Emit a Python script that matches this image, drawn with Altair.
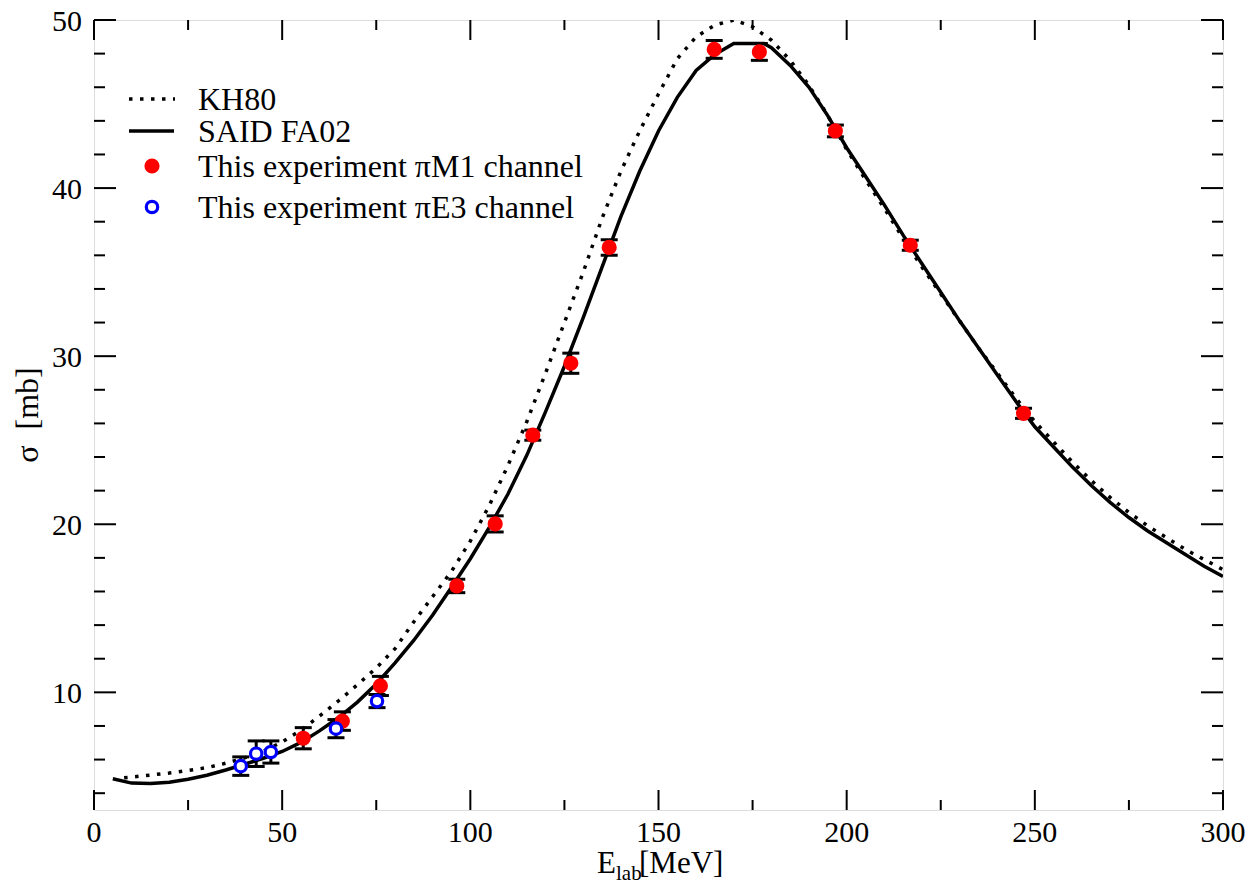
import altair as alt
import pandas as pd

# ---------------- data ----------------
# SAID FA02 (solid curve)
said_e = [5, 10, 15, 20, 25, 30, 35, 40, 45, 50, 55, 60, 65, 70, 75, 80, 85, 90, 95, 100,
          105, 110, 115, 120, 125, 130, 135, 140, 145, 150, 155, 160, 165, 170, 178, 180,
          185, 190, 195, 200, 205, 210, 215, 220, 225, 230, 235, 240, 245, 250, 255, 260,
          265, 270, 275, 280, 285, 290, 295, 300]
said_s = [4.86, 4.60, 4.57, 4.65, 4.83, 5.07, 5.38, 5.72, 6.08, 6.48, 7.02, 7.72, 8.50, 9.42,
          10.5, 11.75, 13.1, 14.6, 16.25, 17.95, 19.8, 21.8, 24.1, 26.7, 29.4, 32.3, 35.3,
          38.3, 41.0, 43.4, 45.4, 47.0, 47.95, 48.6, 48.6, 48.35, 47.3, 46.0, 44.3, 42.4,
          40.7, 39.0, 37.2, 35.5, 33.8, 32.1, 30.5, 28.9, 27.3, 25.8, 24.6, 23.4, 22.3, 21.3,
          20.4, 19.6, 18.9, 18.2, 17.5, 16.9]

# KH80 (dotted curve)
kh_e = [8, 10, 15, 20, 25, 30, 35, 40, 45, 50, 55, 60, 65, 70, 75, 80, 85, 90, 95, 100,
        105, 110, 115, 120, 125, 130, 135, 140, 145, 150, 155, 160, 165, 170, 175, 180,
        185, 190, 195, 200, 205, 210, 215, 220, 225, 230, 235, 240, 245, 250, 255, 260,
        265, 270, 275, 280, 285, 290, 295, 300]
kh_s = [4.92, 4.96, 5.08, 5.20, 5.35, 5.52, 5.78, 6.10, 6.50, 7.05, 7.75, 8.60, 9.50, 10.45,
        11.45, 12.6, 14.2, 15.7, 17.2, 19.0, 21.1, 23.5, 26.1, 29.0, 32.0, 35.0, 38.2, 41.0,
        43.4, 45.6, 47.7, 49.0, 49.7, 50.0, 49.6, 48.8, 47.6, 46.1, 44.3, 42.3, 40.5, 38.8,
        37.0, 35.3, 33.7, 32.1, 30.5, 29.0, 27.5, 26.1, 24.9, 23.7, 22.6, 21.6, 20.7, 19.9,
        19.2, 18.5, 17.9, 17.3]

# This experiment, piM1 channel (red filled)
m1_e = [55.6, 66.0, 76.1, 96.4, 106.6, 116.6, 126.7, 136.9, 164.8, 176.8, 197.0, 216.9, 247.0]
m1_s = [7.27, 8.29, 10.38, 16.33, 20.02, 25.3, 29.58, 36.47, 48.25, 48.1, 43.4, 36.6, 26.6]
m1_err = [0.63, 0.55, 0.57, 0.40, 0.48, 0.30, 0.60, 0.46, 0.53, 0.50, 0.35, 0.30, 0.30]

# This experiment, piE3 channel (blue open)
e3_e = [39.0, 43.1, 47.0, 64.3, 75.2]
e3_s = [5.61, 6.35, 6.45, 7.84, 9.48]
e3_err = [0.55, 0.76, 0.66, 0.54, 0.39]

# axis ticks and tick labels
x_major = [0, 50, 100, 150, 200, 250, 300]
x_minor = [25, 75, 125, 175, 225, 275]
y_major = [10, 20, 30, 40, 50]
y_minor = [4, 6, 8, 12, 14, 16, 18, 22, 24, 26, 28, 32, 34, 36, 38, 42, 44, 46, 48]
x_labels = ["0", "50", "100", "150", "200", "250", "300"]
y_labels = ["10", "20", "30", "40", "50"]

legend_labels = ["KH80", "SAID FA02", "This experiment \u03c0M1 channel",
                 "This experiment \u03c0E3 channel"]
y_title = "\u03c3\u00a0\u00a0[mb]"

# ---------------- chart ----------------
W, H = 1129, 790
FONT = "Liberation Serif"

said = pd.DataFrame({"e": said_e, "s": said_s})
kh = pd.DataFrame({"e": kh_e, "s": kh_s})
m1 = pd.DataFrame({"e": m1_e, "s": m1_s, "err": m1_err})
m1["lo"] = m1["s"] - m1["err"]
m1["hi"] = m1["s"] + m1["err"]
e3 = pd.DataFrame({"e": e3_e, "s": e3_s, "err": e3_err})
e3["lo"] = e3["s"] - e3["err"]
e3["hi"] = e3["s"] + e3["err"]

xs = alt.Scale(domain=[0, 300], nice=False, zero=False)
ys = alt.Scale(domain=[3, 50], nice=False, zero=False)


def X(field):
    return alt.X(field, type="quantitative", scale=xs, axis=None)


def Y(field):
    return alt.Y(field, type="quantitative", scale=ys, axis=None)


kh_line = alt.Chart(kh).mark_line(color="black", strokeWidth=3.5, strokeDash=[3.5, 7.5],
                                  clip=True).encode(x=X("e"), y=Y("s"))
said_line = alt.Chart(said).mark_line(color="black", strokeWidth=3.5,
                                      clip=True).encode(x=X("e"), y=Y("s"))


def errbars(df):
    v = alt.Chart(df).mark_rule(color="black", strokeWidth=3).encode(
        x=X("e"), y=Y("lo"), y2="hi")
    lo = alt.Chart(df).mark_tick(color="black", orient="horizontal", size=17,
                                 thickness=3, opacity=1).encode(x=X("e"), y=Y("lo"))
    hi = alt.Chart(df).mark_tick(color="black", orient="horizontal", size=17,
                                 thickness=3, opacity=1).encode(x=X("e"), y=Y("hi"))
    return [v, lo, hi]


m1_pts = alt.Chart(m1).mark_circle(color="#ff0000", size=230, opacity=1).encode(
    x=X("e"), y=Y("s"))
e3_pts = alt.Chart(e3).mark_point(shape="circle", filled=True, fill="white",
                                  stroke="#0000ff", strokeWidth=3.2, size=130,
                                  opacity=1, fillOpacity=1).encode(x=X("e"), y=Y("s"))


# inside ticks on all four sides
def xticks(vals, length):
    d = pd.DataFrame({"v": vals})
    b = alt.Chart(d).mark_rule(color="black", strokeWidth=2).encode(
        x=X("v"), y=alt.value(H), y2=alt.value(H - length))
    t = alt.Chart(d).mark_rule(color="black", strokeWidth=2).encode(
        x=X("v"), y=alt.value(0), y2=alt.value(length))
    return [b, t]


def yticks(vals, length):
    d = pd.DataFrame({"v": vals})
    l = alt.Chart(d).mark_rule(color="black", strokeWidth=2).encode(
        y=Y("v"), x=alt.value(0), x2=alt.value(length))
    r = alt.Chart(d).mark_rule(color="black", strokeWidth=2).encode(
        y=Y("v"), x=alt.value(W), x2=alt.value(W - length))
    return [l, r]


ticks = xticks(x_major, 20) + xticks(x_minor, 10) + yticks(y_major, 22) + yticks(y_minor, 11)

# tick labels (serif)
xl = alt.Chart(pd.DataFrame({"v": x_major, "t": x_labels})).mark_text(
    font=FONT, fontSize=30, align="center", baseline="alphabetic", color="black").encode(
    x=X("v"), y=alt.value(H + 32), text="t:N")
yl = alt.Chart(pd.DataFrame({"v": y_major, "t": y_labels})).mark_text(
    font=FONT, fontSize=30, align="right", baseline="alphabetic", dy=11,
    color="black").encode(y=Y("v"), x=alt.value(-12), text="t:N")
yt = alt.Chart(pd.DataFrame({"t": [y_title]})).mark_text(
    font=FONT, fontSize=32, align="center", baseline="middle", angle=270,
    color="black").encode(x=alt.value(-66), y=alt.value(395), text="t:N")

# legend (drawn by hand, inside the plot)
one = pd.DataFrame({"k": [0]})
leg_rows = [79, 111, 146, 187]
leg = []
leg.append(alt.Chart(one).mark_rule(color="black", strokeWidth=3.5, strokeDash=[3.5, 7.5]).encode(
    x=alt.value(35), x2=alt.value(81), y=alt.value(leg_rows[0])))
leg.append(alt.Chart(one).mark_rule(color="black", strokeWidth=3.5).encode(
    x=alt.value(35), x2=alt.value(80), y=alt.value(leg_rows[1])))
leg.append(alt.Chart(one).mark_circle(color="#ff0000", size=230, opacity=1).encode(
    x=alt.value(58), y=alt.value(leg_rows[2])))
leg.append(alt.Chart(one).mark_point(shape="circle", filled=True, fill="white",
                                     stroke="#0000ff", strokeWidth=3.2, size=130,
                                     opacity=1).encode(x=alt.value(58), y=alt.value(leg_rows[3])))
for lab, row in zip(legend_labels, leg_rows):
    leg.append(alt.Chart(pd.DataFrame({"t": [lab]})).mark_text(
        font=FONT, fontSize=32, align="left", baseline="middle", color="black").encode(
        text="t:N", x=alt.value(104), y=alt.value(row + 1)))

# x-axis title with subscript
xt = []
xt.append(alt.Chart(pd.DataFrame({"t": ["E"]})).mark_text(
    font=FONT, fontSize=31, align="left", baseline="alphabetic", color="black").encode(
    text="t:N", x=alt.value(503), y=alt.value(853)))
xt.append(alt.Chart(pd.DataFrame({"t": ["lab"]})).mark_text(
    font=FONT, fontSize=21, align="left", baseline="alphabetic", color="black").encode(
    text="t:N", x=alt.value(522), y=alt.value(860)))
xt.append(alt.Chart(pd.DataFrame({"t": ["[MeV]"]})).mark_text(
    font=FONT, fontSize=31, align="left", baseline="alphabetic", color="black").encode(
    text="t:N", x=alt.value(545), y=alt.value(853)))

layers = ([kh_line, said_line] + errbars(m1) + errbars(e3) + [m1_pts, e3_pts] + ticks
          + [xl, yl, yt] + leg + xt)

chart = alt.layer(*layers).properties(
    width=W, height=H,
    autosize=alt.AutoSizeParams(type="none"),
    padding={"left": 86, "top": 12, "right": 22, "bottom": 76},
).configure_view(stroke="black", strokeWidth=2).configure(background="white")

chart.save("out.html", embed_options={"renderer": "svg", "actions": False})
